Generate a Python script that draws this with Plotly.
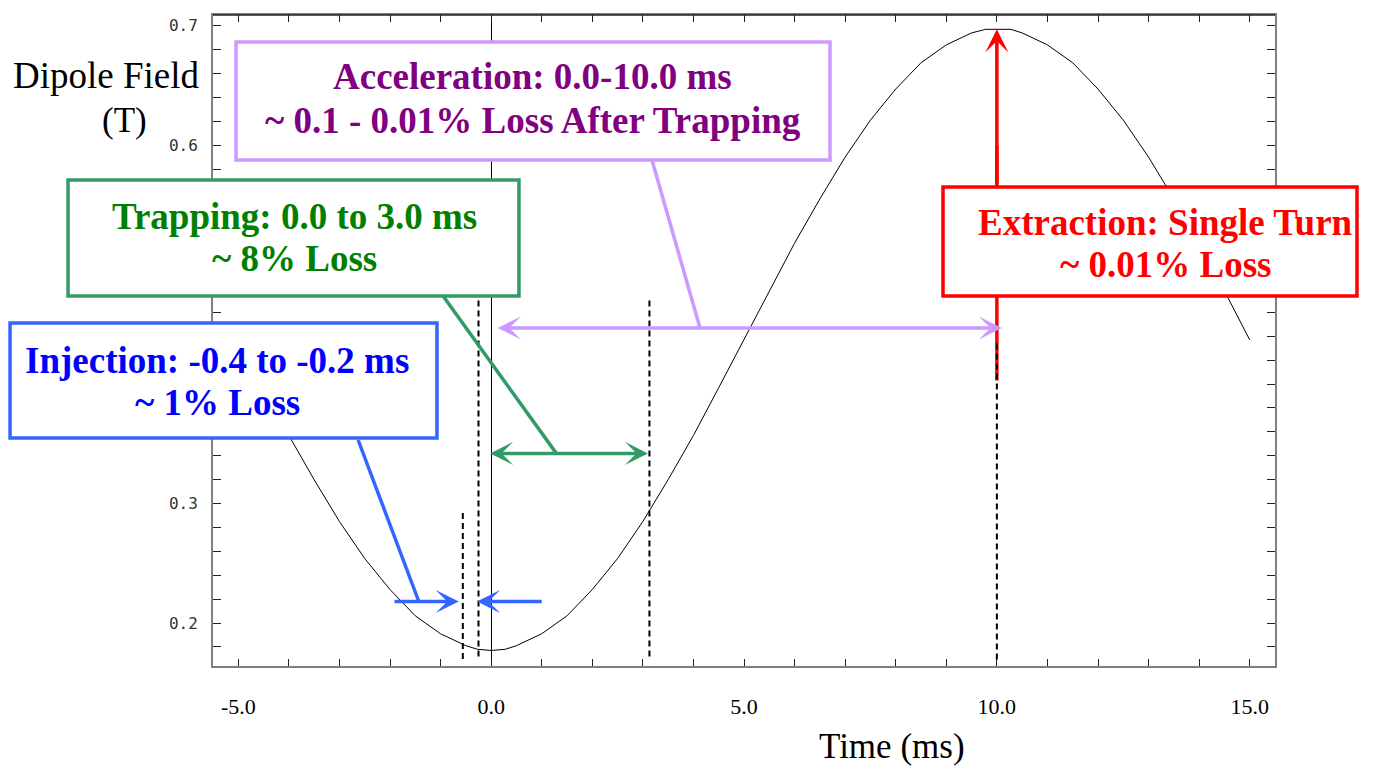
import plotly.graph_objects as go

# ---- data ----
time_ms = [-5.0, -4.5, -4.0, -3.5, -3.0, -2.5, -2.0, -1.5, -1.0, -0.5, -0.27, 0.0, 0.28, 0.5,
           1.0, 1.5, 2.0, 2.5, 3.0, 3.5, 4.0, 4.5, 5.0, 5.5, 6.0, 6.5, 7.0, 7.5, 8.0, 8.5,
           9.0, 9.5, 9.78, 10.0, 10.28, 10.5, 11.0, 11.5, 12.0, 12.5, 13.0, 13.5, 14.0, 14.5, 15.0]
field_T = [0.437, 0.397, 0.357, 0.320, 0.285, 0.254, 0.228, 0.206, 0.191, 0.181, 0.178, 0.177, 0.178, 0.181,
           0.191, 0.206, 0.228, 0.254, 0.285, 0.320, 0.357, 0.397, 0.437, 0.478, 0.518, 0.555, 0.590, 0.621, 0.647, 0.669,
           0.684, 0.694, 0.697, 0.697, 0.697, 0.694, 0.684, 0.669, 0.647, 0.621, 0.590, 0.555, 0.518, 0.478, 0.437]

x_tick_vals = list(range(-5, 16))
x_tick_text = ["-5.0" if v == -5 else "0.0" if v == 0 else "5.0" if v == 5 else
               "10.0" if v == 10 else "15.0" if v == 15 else "" for v in x_tick_vals]
y_tick_vals = [round(0.18 + 0.02 * i, 2) for i in range(27)]
# labels visible in the picture (0.4 and 0.5 sit under the annotation boxes)
y_labelled = [0.2, 0.3, 0.6, 0.7]
y_tick_text = [("%.1f" % v) if any(abs(v - w) < 1e-6 for w in y_labelled) else "" for v in y_tick_vals]

# event markers (ms) and field levels of annotation arrows (T)
injection_lines = [-0.56, -0.25]
trapping_end = 3.13
extraction_time = 10.0
accel_arrow = [0.1, 10.1, 0.447]
trap_arrow = [-0.05, 3.1, 0.342]
inj_arrow_right = [-1.94, -0.64, 0.218]
inj_arrow_left = [1.03, -0.28, 0.218]

SERIF = "Liberation Serif"

fig = go.Figure()
fig.add_trace(go.Scatter(x=time_ms, y=field_T, mode="lines",
                         line=dict(color="black", width=1), showlegend=False, hoverinfo="skip"))

shapes = []
# red extraction line (goes behind the box)
shapes.append(dict(type="line", xref="x", yref="y", x0=extraction_time, x1=extraction_time,
                   y0=0.403, y1=0.60, line=dict(color="#ff0000", width=3.5), layer="above"))
dash = dict(color="black", width=2, dash="6px,4px")
shapes.append(dict(type="line", xref="x", yref="y", x0=injection_lines[0], x1=injection_lines[0],
                   y0=0.292, y1=0.169, line=dash, layer="above"))
shapes.append(dict(type="line", xref="x", yref="y", x0=injection_lines[1], x1=injection_lines[1],
                   y0=0.470, y1=0.169, line=dash, layer="above"))
shapes.append(dict(type="line", xref="x", yref="y", x0=trapping_end, x1=trapping_end,
                   y0=0.470, y1=0.169, line=dash, layer="above"))
shapes.append(dict(type="line", xref="x", yref="y", x0=extraction_time, x1=extraction_time,
                   y0=0.434, y1=0.169, line=dash, layer="above"))

# boxes (paper coords)
def box(x0, x1, y0, y1, color):
    return dict(type="rect", xref="paper", yref="paper", x0=x0, x1=x1, y0=y0, y1=y1,
                fillcolor="white", line=dict(color=color, width=3.5), layer="above")

shapes.append(box(0.0217, 0.5810, 0.7773, 0.9585, "#cc99ff"))
shapes.append(box(-0.1365, 0.2881, 0.5684, 0.7465, "#339966"))
shapes.append(box(-0.1911, 0.2109, 0.3502, 0.5269, "#3366ff"))
shapes.append(box(0.6874, 1.0772, 0.5684, 0.7358, "#ff0000"))
# top frame line (black)
shapes.append(dict(type="line", xref="paper", yref="paper", x0=0, x1=1, y0=1, y1=1,
                   line=dict(color="#222222", width=1.5), layer="above"))

# pointer lines
def pointer(x0, y0, x1, y1, color):
    return dict(type="line", xref="x", yref="y", x0=x0, y0=y0, x1=x1, y1=y1,
                line=dict(color=color, width=3.5), layer="above")

shapes.append(pointer(3.18, 0.5876, 4.13, 0.447, "#cc99ff"))
shapes.append(pointer(-0.95, 0.4738, 1.29, 0.342, "#339966"))
shapes.append(pointer(-2.63, 0.3532, -1.43, 0.218, "#3366ff"))

annotations = []

def arrow(tail_x, tip_x, y, color, both=False, tail_y=None, tip_y=None):
    d = dict(x=tip_x, y=y if tip_y is None else tip_y, ax=tail_x, ay=y if tail_y is None else tail_y,
             xref="x", yref="y", axref="x", ayref="y", text="", showarrow=True,
             arrowhead=3, arrowsize=1.1, arrowwidth=3.5, arrowcolor=color, standoff=0)
    if both:
        d.update(arrowside="end+start", startarrowhead=3, startarrowsize=1.1, startstandoff=0)
    return d

annotations.append(arrow(accel_arrow[0], accel_arrow[1], accel_arrow[2], "#cc99ff", both=True))
annotations.append(arrow(trap_arrow[0], trap_arrow[1], trap_arrow[2], "#339966", both=True))
annotations.append(arrow(inj_arrow_right[0], inj_arrow_right[1], inj_arrow_right[2], "#3366ff"))
annotations.append(arrow(inj_arrow_left[0], inj_arrow_left[1], inj_arrow_left[2], "#3366ff"))
annotations.append(arrow(extraction_time, extraction_time, None, "#ff0000", tail_y=0.5658, tip_y=0.697))

def label(x, y, text, color, size=37, bold=True):
    return dict(x=x, y=y, xref="paper", yref="paper", text=("<b>%s</b>" % text) if bold else text,
                showarrow=False, xanchor="center", yanchor="middle", align="center",
                font=dict(family=SERIF, size=size, color=color))

annotations.append(label(0.3013, 0.9048, "Acceleration: 0.0-10.0 ms", "#800080"))
annotations.append(label(0.3013, 0.8372, "~ 0.1 - 0.01% Loss After Trapping", "#800080"))
annotations.append(label(0.0772, 0.6912, "Trapping: 0.0 to 3.0 ms", "#008000"))
annotations.append(label(0.0772, 0.6252, "~ 8% Loss", "#008000"))
annotations.append(label(0.0042, 0.4700, "Injection: -0.4 to -0.2 ms", "#0000ff"))
annotations.append(label(0.0042, 0.4040, "~ 1% Loss", "#0000ff"))
annotations.append(label(0.8969, 0.6820, "Extraction: Single Turn", "#ff0000"))
annotations.append(label(0.8969, 0.6160, "~ 0.01% Loss", "#ff0000"))

annotations.append(label(-0.1007, 0.9063, "Dipole Field", "black", 37, bold=False))
annotations.append(label(-0.0838, 0.8387, "(T)", "black", 35, bold=False))
annotations.append(label(0.6395, -0.124, "Time (ms)", "black", 35, bold=False))

fig.update_layout(
    width=1385, height=770,
    margin=dict(l=213, r=110, t=15, b=104),
    paper_bgcolor="white", plot_bgcolor="white",
    shapes=shapes, annotations=annotations, showlegend=False,
    xaxis=dict(range=[-5.5, 15.5], tickmode="array", tickvals=x_tick_vals, ticktext=x_tick_text,
               ticks="inside", ticklen=7, tickwidth=1, tickcolor="#222222",
               showline=True, linecolor="#808080", linewidth=2, mirror="ticks",
               showgrid=False, zeroline=True, zerolinecolor="black", zerolinewidth=1,
               tickfont=dict(family=SERIF, size=22, color="black"), ticklabelstandoff=20),
    yaxis=dict(range=[0.164, 0.709], tickmode="array", tickvals=y_tick_vals, ticktext=y_tick_text,
               ticks="inside", ticklen=8, tickwidth=1, tickcolor="#222222",
               showline=True, linecolor="#808080", linewidth=2, mirror="ticks",
               showgrid=False, zeroline=False,
               tickfont=dict(family="DejaVu Sans Mono", size=16, color="#333333"), ticklabelstandoff=10),
)

fig.write_html("out.html")
